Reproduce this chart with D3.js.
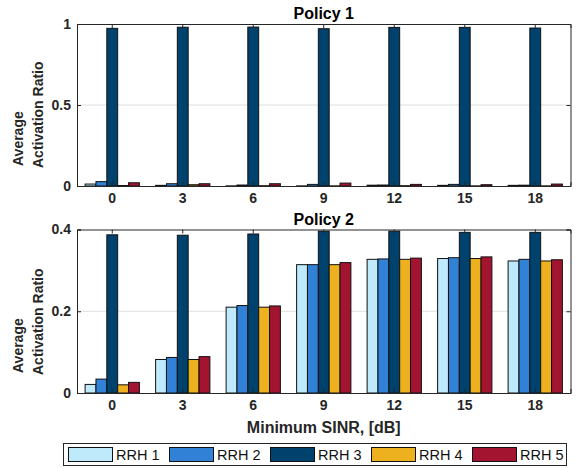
<!DOCTYPE html>
<html>
<head>
<meta charset="utf-8">
<script src="https://cdn.jsdelivr.net/npm/d3@7"></script>
<style>
  body { margin: 0; background: #fff; }
  text { font-family: "Liberation Sans", Arial, sans-serif; }
</style>
</head>
<body>
<div id="chart"></div>
<script>
var categories = ['0', '3', '6', '9', '12', '15', '18'];
var seriesNames = ['RRH 1', 'RRH 2', 'RRH 3', 'RRH 4', 'RRH 5'];
var seriesColors = ['#bfeafc', '#3182d7', '#00426e', '#edb120', '#a2142f'];

// Policy 1: one array per RRH, one value per minimum SINR
var policy1 = [
  [0.012, 0.004, 0.001, 0.001, 0.005, 0.004, 0.004],
  [0.027, 0.014, 0.006, 0.010, 0.006, 0.010, 0.005],
  [0.973, 0.980, 0.981, 0.971, 0.979, 0.979, 0.975],
  [0.003, 0.008, 0.002, 0.001, 0.002, 0.001, 0.001],
  [0.020, 0.014, 0.014, 0.018, 0.010, 0.008, 0.012]
];
var policy2 = [
  [0.021, 0.082, 0.210, 0.314, 0.327, 0.329, 0.323],
  [0.034, 0.087, 0.214, 0.314, 0.328, 0.331, 0.327],
  [0.387, 0.386, 0.389, 0.396, 0.396, 0.393, 0.393],
  [0.020, 0.082, 0.210, 0.314, 0.327, 0.329, 0.323],
  [0.026, 0.089, 0.213, 0.319, 0.330, 0.333, 0.326]
];
var yTicks1 = [0, 0.5, 1];
var yTicks2 = [0, 0.2, 0.4];

var width = 579, height = 468;
var left = 77, right = 570.5;

var svg = d3.select('#chart').append('svg')
  .attr('width', width)
  .attr('height', height);

var x0 = d3.scaleBand().domain(categories).range([left, right]).padding(0);
var groupW = x0.step() * 0.77;
var x1 = d3.scaleBand().domain(seriesNames).range([-groupW / 2, groupW / 2]);

function panel(data, yTicks, top, bottom, title) {
  var y = d3.scaleLinear().domain([0, yTicks[yTicks.length - 1]]).range([bottom, top]);
  var g = svg.append('g');

  // grid
  g.selectAll('line.grid')
    .data(yTicks.slice(1, -1))
    .enter().append('line')
    .attr('x1', left).attr('x2', right)
    .attr('y1', function(d) { return y(d); })
    .attr('y2', function(d) { return y(d); })
    .attr('stroke', '#dedede')
    .attr('stroke-width', 1);

  // bars
  var rows = [];
  data.forEach(function(vals, s) {
    vals.forEach(function(v, c) { rows.push({ s: s, c: c, v: v }); });
  });
  g.selectAll('rect.bar')
    .data(rows)
    .enter().append('rect')
    .attr('x', function(d) { return x0(categories[d.c]) + x0.bandwidth() / 2 + x1(seriesNames[d.s]); })
    .attr('width', x1.bandwidth())
    .attr('y', function(d) { return y(d.v); })
    .attr('height', function(d) { return bottom - y(d.v); })
    .attr('fill', function(d) { return seriesColors[d.s]; })
    .attr('stroke', '#111')
    .attr('stroke-width', 1);

  // axes
  var xAxis = d3.axisBottom(x0).tickSize(-4).tickPadding(7);
  var xTop = d3.axisTop(x0).tickSize(-4).tickFormat('');
  var yAxis = d3.axisLeft(y).tickValues(yTicks).tickSize(-4).tickPadding(6)
    .tickFormat(function(d) { return String(d); });
  var yRight = d3.axisRight(y).tickValues(yTicks).tickSize(-4).tickFormat('');

  var axes = [
    g.append('g').attr('transform', 'translate(0,' + bottom + ')').call(xAxis),
    g.append('g').attr('transform', 'translate(0,' + top + ')').call(xTop),
    g.append('g').attr('transform', 'translate(' + left + ',0)').call(yAxis),
    g.append('g').attr('transform', 'translate(' + right + ',0)').call(yRight)
  ];
  axes.forEach(function(a) {
    a.select('.domain').attr('stroke', '#262626');
    a.selectAll('.tick line').attr('stroke', '#262626');
    a.selectAll('.tick text')
      .attr('fill', '#262626')
      .style('font-size', '14px')
      .style('font-weight', 'bold');
  });

  svg.append('text')
    .attr('x', (left + right) / 2)
    .attr('y', top - 5)
    .attr('text-anchor', 'middle')
    .style('font-size', '16px')
    .style('font-weight', 'bold')
    .text(title);

  // two-line y label, lines start at the same bottom point
  var yl = svg.append('text')
    .attr('transform', 'translate(0,' + (bottom - 18) + ') rotate(-90)')
    .attr('text-anchor', 'start')
    .style('font-size', '14px')
    .style('font-weight', 'bold')
    .attr('fill', '#262626');
  yl.append('tspan').attr('x', 2).attr('y', 23).text('Average');
  yl.append('tspan').attr('x', 0).attr('y', 43).text('Activation Ratio');
}

panel(policy1, yTicks1, 24, 186, 'Policy 1');
panel(policy2, yTicks2, 229.5, 393, 'Policy 2');

svg.append('text')
  .attr('x', (left + right) / 2)
  .attr('y', 433)
  .attr('text-anchor', 'middle')
  .style('font-size', '16px')
  .style('font-weight', 'bold')
  .attr('fill', '#262626')
  .text('Minimum SINR, [dB]');

// legend
var legend = svg.append('g');
legend.append('rect')
  .attr('x', 63.5).attr('y', 443.5)
  .attr('width', 503).attr('height', 22)
  .attr('fill', '#fff')
  .attr('stroke', '#262626');
var items = legend.selectAll('g.item')
  .data(seriesNames)
  .enter().append('g')
  .attr('transform', function(d, i) { return 'translate(' + (68 + i * 101) + ',0)'; });
items.append('rect')
  .attr('x', 0.5).attr('y', 447.5)
  .attr('width', 44).attr('height', 14)
  .attr('fill', function(d, i) { return seriesColors[i]; })
  .attr('stroke', '#111');
items.append('text')
  .attr('x', 48).attr('y', 460)
  .style('font-size', '14.5px')
  .attr('fill', '#111')
  .text(function(d) { return d; });
</script>
</body>
</html>
